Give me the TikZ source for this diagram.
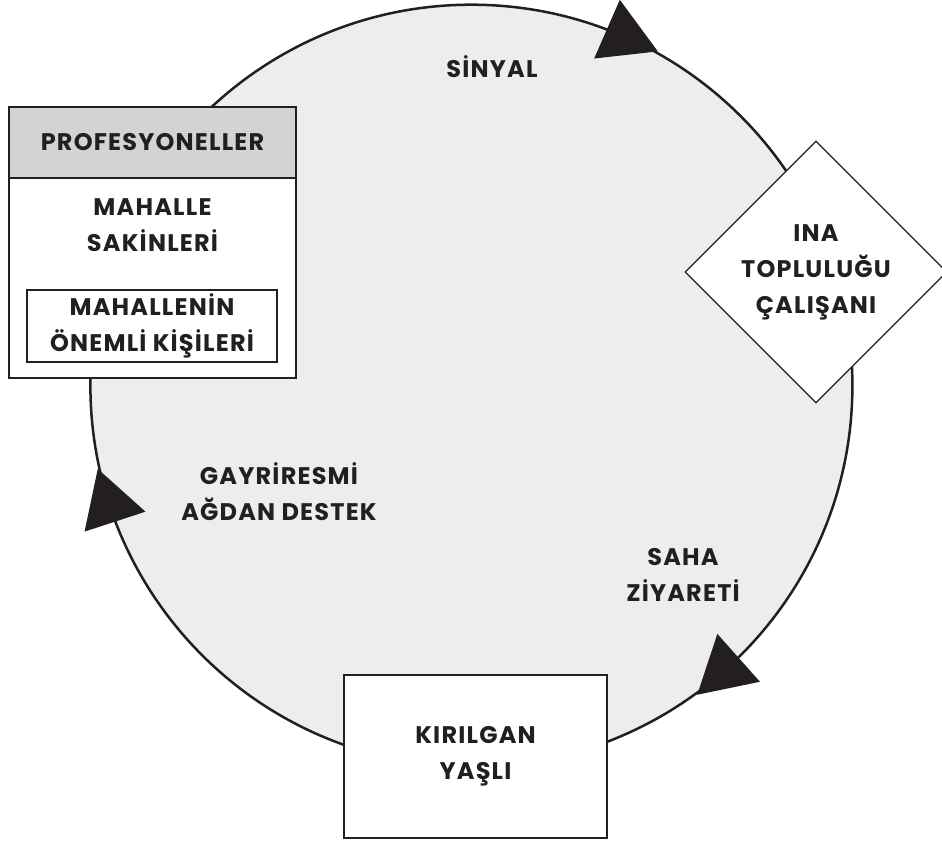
\documentclass[tikz,border=0pt]{standalone}
\usepackage{fontspec}
\setmainfont{Poppins}
\usetikzlibrary{shapes.geometric}
\definecolor{ink}{HTML}{231F20}
\definecolor{ringfill}{HTML}{EDEDED}
\definecolor{headfill}{HTML}{D1D3D4}

\begin{document}
\begin{tikzpicture}[x=1pt, y=1pt,
    lbl/.style={font=\bfseries\fontsize{24}{36}\selectfont\addfontfeature{LetterSpace=5}, text=ink, align=center},
    box/.style={draw=ink, line width=1.2pt, fill=white, inner sep=0pt},
    tip/.style={regular polygon, regular polygon sides=3, fill=ink, minimum size=74pt, inner sep=0pt}]

    \useasboundingbox (0,0) rectangle (942,846);

    % the big cycle in the back
    \node[circle, draw=ink, line width=2.5pt, fill=ringfill, minimum size=762pt, inner sep=0pt, outer sep=0pt] (ring) at (471.4,460.3) {};

    % arrow heads on the cycle, pointing clockwise
    \foreach \a/\n in {66.4/top, 198.1/left, 311.7/right}
        \path (ring.center) ++(\a:381) node[tip, rotate=\a-180] (tip\n) {};

    % professionals box (header, residents, key persons)
    \node[box, minimum width=287pt, minimum height=271pt] (prof) at (152.5,603.5) {};
    \node[box, lbl, fill=headfill, minimum width=287pt, minimum height=71pt, anchor=north] (profhead) at (prof.north) {PROFESYONELLER};
    \node[lbl] (sakin) at (152.5,621) {MAHALLE\\SAKİNLERİ};
    \node[box, lbl, minimum width=250pt, minimum height=72pt] (onemli) at (152,520) {MAHALLENİN\\ÖNEMLİ KİŞİLERİ};

    % community worker
    \node[box, lbl, diamond, minimum width=262pt, minimum height=262pt] (ina) at (816,574) {INA\\TOPLULUĞU\\ÇALIŞANI};

    % frail elderly
    \node[box, lbl, minimum width=263pt, minimum height=163pt] (yasli) at (475.5,89.5) {KIRILGAN\\YAŞLI};

    % step labels
    \node[lbl] (sinyal) at (492,779) {SİNYAL};
    \node[lbl] (gayri) at (279,354) {GAYRİRESMİ\\AĞDAN DESTEK};
    \node[lbl] (saha) at (683,271) {SAHA\\ZİYARETİ};

\end{tikzpicture}
\end{document}
